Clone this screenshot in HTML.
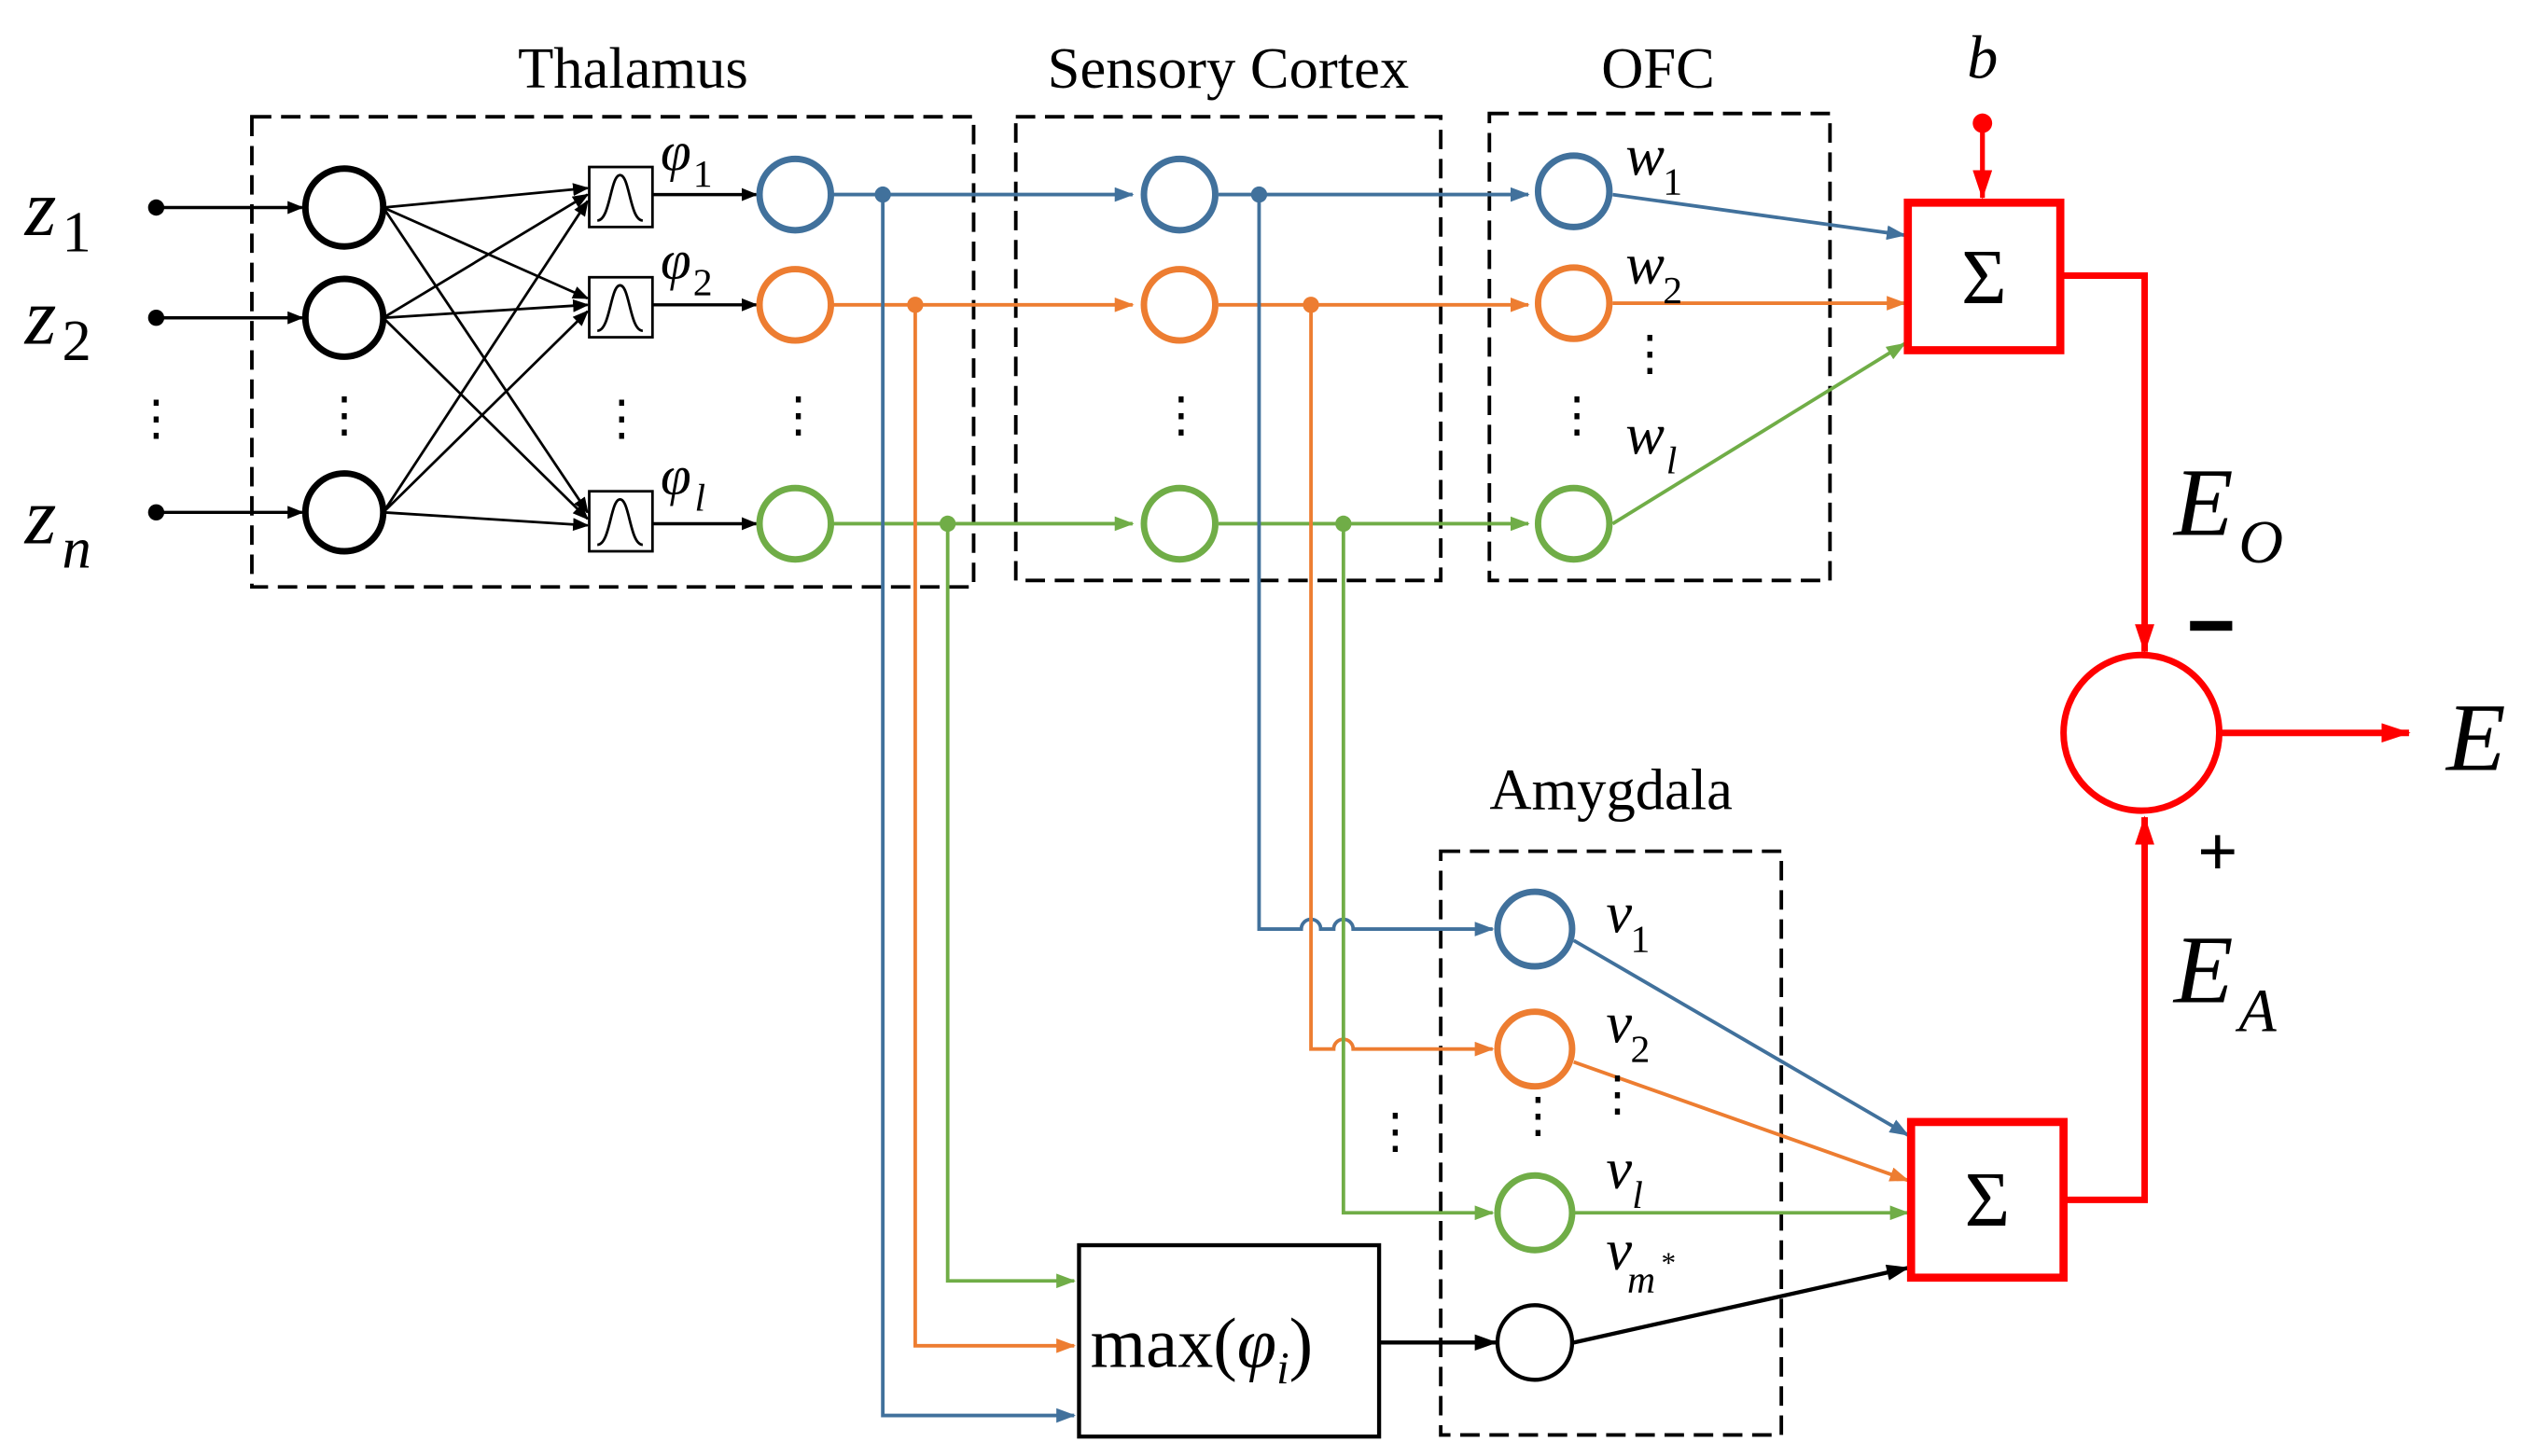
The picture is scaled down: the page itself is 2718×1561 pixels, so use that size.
<!DOCTYPE html>
<html><head><meta charset="utf-8"><style>
html,body{margin:0;padding:0;background:#fff;}
svg{display:block;}
text{font-family:"Liberation Serif",serif;}
</style></head><body>
<svg width="2718" height="1561" viewBox="0 0 1563 898" xmlns="http://www.w3.org/2000/svg">
<defs>
<marker id="ak" markerWidth="10" markerHeight="8" refX="9" refY="4" orient="auto" markerUnits="userSpaceOnUse"><path d="M0,0 L10,4 L0,8 z" fill="#000"/></marker>
<marker id="ab" markerWidth="12" markerHeight="9" refX="11" refY="4.5" orient="auto" markerUnits="userSpaceOnUse"><path d="M0,0 L12,4.5 L0,9 z" fill="#41719c"/></marker>
<marker id="ao" markerWidth="12" markerHeight="9" refX="11" refY="4.5" orient="auto" markerUnits="userSpaceOnUse"><path d="M0,0 L12,4.5 L0,9 z" fill="#ed7d31"/></marker>
<marker id="ag" markerWidth="12" markerHeight="9" refX="11" refY="4.5" orient="auto" markerUnits="userSpaceOnUse"><path d="M0,0 L12,4.5 L0,9 z" fill="#70ad47"/></marker>
<marker id="ar" markerWidth="18" markerHeight="12" refX="17" refY="6" orient="auto" markerUnits="userSpaceOnUse"><path d="M0,0 L18,6 L0,12 z" fill="#f00"/></marker>
<marker id="akb" markerWidth="14" markerHeight="10" refX="13" refY="5" orient="auto" markerUnits="userSpaceOnUse"><path d="M0,0 L14,5 L0,10 z" fill="#000"/></marker>
</defs>
<g fill="none" stroke="#000" stroke-width="2.2" stroke-dasharray="12,6">
<rect x="155" y="72" width="445" height="290"/>
<rect x="626" y="72" width="262" height="286"/>
<rect x="918" y="70" width="210" height="288"/>
<rect x="888" y="525" width="210" height="360"/>
</g>
<g font-size="36" text-anchor="middle">
<text x="390" y="54">Thalamus</text>
<text x="757" y="54">Sensory Cortex</text>
<text x="1022" y="54">OFC</text>
<text x="993" y="499">Amygdala</text>
</g>
<g font-size="50" font-style="italic">
<text x="15" y="145">z</text><text x="38" y="155" font-size="36" font-style="normal">1</text>
<text x="15" y="212">z</text><text x="38" y="222" font-size="36" font-style="normal">2</text>
<text x="15" y="335">z</text><text x="38" y="350" font-size="36">n</text>
</g>
<g fill="#000"><circle cx="96" cy="128" r="5"/><circle cx="96" cy="196" r="5"/><circle cx="96" cy="316" r="5"/></g>
<g stroke="#000" stroke-width="2" marker-end="url(#ak)">
<line x1="96" y1="128" x2="186" y2="128"/><line x1="96" y1="196" x2="186" y2="196"/><line x1="96" y1="316" x2="186" y2="316"/>
</g>
<g fill="none" stroke="#000" stroke-width="4"><circle cx="212" cy="128" r="24"/><circle cx="212" cy="196" r="24"/><circle cx="212" cy="316" r="24"/></g>
<g stroke="#000" stroke-width="1.6" marker-end="url(#ak)">
<line x1="236" y1="128" x2="362" y2="116"/><line x1="236" y1="128" x2="362" y2="184"/><line x1="236" y1="128" x2="362" y2="316"/>
<line x1="236" y1="196" x2="362" y2="120"/><line x1="236" y1="196" x2="362" y2="188"/><line x1="236" y1="196" x2="362" y2="320"/>
<line x1="236" y1="316" x2="362" y2="124"/><line x1="236" y1="316" x2="362" y2="192"/><line x1="236" y1="316" x2="362" y2="324"/>
</g>
<g fill="#fff" stroke="#000" stroke-width="1.6">
<rect x="363" y="103" width="39" height="37"/><rect x="363" y="171" width="39" height="37"/><rect x="363" y="303" width="39" height="37"/>
</g>
<g fill="none" stroke="#000" stroke-width="1.6">
<path d="M368,136 C376,136 376,108 382,108 C388,108 388,136 396,136"/>
<path d="M368,204 C376,204 376,176 382,176 C388,176 388,204 396,204"/>
<path d="M368,336 C376,336 376,308 382,308 C388,308 388,336 396,336"/>
</g>
<g stroke="#000" stroke-width="2" marker-end="url(#ak)">
<line x1="402" y1="120" x2="466" y2="120"/><line x1="402" y1="188" x2="466" y2="188"/><line x1="402" y1="323" x2="466" y2="323"/>
</g>
<g font-size="34" font-style="italic">
<text x="407" y="105">φ</text><text x="427" y="115" font-size="24" font-style="normal">1</text>
<text x="407" y="172">φ</text><text x="427" y="182" font-size="24" font-style="normal">2</text>
<text x="407" y="305">φ</text><text x="428" y="315" font-size="24">l</text>
</g>
<g fill="none" stroke-width="2.2">
<path d="M512,120 H698" stroke="#41719c" marker-end="url(#ab)"/>
<path d="M751,120 H942" stroke="#41719c" marker-end="url(#ab)"/>
<path d="M512,188 H698" stroke="#ed7d31" marker-end="url(#ao)"/>
<path d="M751,188 H942" stroke="#ed7d31" marker-end="url(#ao)"/>
<path d="M512,323 H698" stroke="#70ad47" marker-end="url(#ag)"/>
<path d="M751,323 H942" stroke="#70ad47" marker-end="url(#ag)"/>
<path d="M544,120 V873 H662" stroke="#41719c" marker-end="url(#ab)"/>
<path d="M564,188 V830 H662" stroke="#ed7d31" marker-end="url(#ao)"/>
<path d="M584,323 V790 H662" stroke="#70ad47" marker-end="url(#ag)"/>
<path d="M776,120 V573 H802 A6,6 0 0 1 814,573 H822 A6,6 0 0 1 834,573 H920" stroke="#41719c" marker-end="url(#ab)"/>
<path d="M808,188 V647 H822 A6,6 0 0 1 834,647 H920" stroke="#ed7d31" marker-end="url(#ao)"/>
<path d="M828,323 V748 H920" stroke="#70ad47" marker-end="url(#ag)"/>
<path d="M994,120 L1174,145" stroke="#41719c" marker-end="url(#ab)"/>
<path d="M994,187 L1174,187" stroke="#ed7d31" marker-end="url(#ao)"/>
<path d="M994,323 L1174,212" stroke="#70ad47" marker-end="url(#ag)"/>
<path d="M970,580 L1176,700" stroke="#41719c" marker-end="url(#ab)"/>
<path d="M970,655 L1176,728" stroke="#ed7d31" marker-end="url(#ao)"/>
<path d="M970,748 L1176,748" stroke="#70ad47" marker-end="url(#ag)"/>
</g>
<circle cx="544" cy="120" r="5" fill="#41719c"/><circle cx="776" cy="120" r="5" fill="#41719c"/>
<circle cx="564" cy="188" r="5" fill="#ed7d31"/><circle cx="808" cy="188" r="5" fill="#ed7d31"/>
<circle cx="584" cy="323" r="5" fill="#70ad47"/><circle cx="828" cy="323" r="5" fill="#70ad47"/>
<g fill="#fff" stroke-width="4">
<circle cx="490" cy="120" r="22" stroke="#41719c"/><circle cx="727" cy="120" r="22" stroke="#41719c"/><circle cx="970" cy="118" r="22" stroke="#41719c"/>
<circle cx="490" cy="188" r="22" stroke="#ed7d31"/><circle cx="727" cy="188" r="22" stroke="#ed7d31"/><circle cx="970" cy="187" r="22" stroke="#ed7d31"/>
<circle cx="490" cy="323" r="22" stroke="#70ad47"/><circle cx="727" cy="323" r="22" stroke="#70ad47"/><circle cx="970" cy="323" r="22" stroke="#70ad47"/>
<circle cx="946" cy="573" r="23" stroke="#41719c"/><circle cx="946" cy="647" r="23" stroke="#ed7d31"/><circle cx="946" cy="748" r="23" stroke="#70ad47"/>
</g>
<circle cx="946" cy="828" r="23" fill="#fff" stroke="#000" stroke-width="2.5"/>
<rect x="665" y="768" width="185" height="118" fill="#fff" stroke="#000" stroke-width="2.5"/>
<text x="672" y="843" font-size="44">max(<tspan font-style="italic">φ</tspan><tspan font-size="28" font-style="italic" dy="10">i</tspan><tspan dy="-10">)</tspan></text>
<line x1="850" y1="828" x2="922" y2="828" stroke="#000" stroke-width="2.5" marker-end="url(#akb)"/>
<line x1="970" y1="828" x2="1176" y2="782" stroke="#000" stroke-width="2.5" marker-end="url(#akb)"/>
<g font-size="30" text-anchor="middle">
<text x="96" y="268">⋮</text><text x="212" y="266">⋮</text><text x="383" y="268">⋮</text><text x="492" y="266">⋮</text>
<text x="728" y="266">⋮</text><text x="972" y="266">⋮</text><text x="1017" y="228">⋮</text><text x="860" y="708">⋮</text>
<text x="948" y="698">⋮</text><text x="997" y="685">⋮</text>
</g>
<g font-size="36" font-style="italic">
<text x="1002" y="108">w</text><text x="1025" y="120" font-size="24" font-style="normal">1</text>
<text x="1002" y="175">w</text><text x="1025" y="187" font-size="24" font-style="normal">2</text>
<text x="1002" y="280">w</text><text x="1027" y="292" font-size="24">l</text>
<text x="990" y="575">v</text><text x="1005" y="587" font-size="24" font-style="normal">1</text>
<text x="990" y="643">v</text><text x="1005" y="655" font-size="24" font-style="normal">2</text>
<text x="990" y="733">v</text><text x="1006" y="745" font-size="24">l</text>
<text x="990" y="783">v</text><text x="1003" y="797" font-size="24">m</text><text x="1024" y="785" font-size="18" font-style="normal">*</text>
</g>
<text x="1222" y="48" font-size="38" font-style="italic" text-anchor="middle">b</text>
<circle cx="1222" cy="76" r="6" fill="#f00"/>
<line x1="1222" y1="76" x2="1222" y2="122" stroke="#f00" stroke-width="3" marker-end="url(#ar)"/>
<g fill="#fff" stroke="#f00" stroke-width="5">
<rect x="1176" y="125" width="94" height="91"/>
<rect x="1178" y="692" width="94" height="96"/>
</g>
<g font-size="48" text-anchor="middle"><text x="1223" y="187">Σ</text><text x="1225" y="756">Σ</text></g>
<g fill="none" stroke="#f00" stroke-width="4">
<path d="M1270,170 H1322 V402" marker-end="url(#ar)"/>
<path d="M1272,740 H1322 V504" marker-end="url(#ar)"/>
<line x1="1368" y1="452" x2="1485" y2="452" marker-end="url(#ar)"/>
</g>
<circle cx="1320" cy="452" r="48" fill="#fff" stroke="#f00" stroke-width="4"/>
<g font-size="60" font-style="italic">
<text x="1508" y="475">E</text>
<text x="1340" y="330">E</text><text x="1380" y="347" font-size="38">O</text>
<text x="1340" y="618">E</text><text x="1380" y="636" font-size="38">A</text>
</g>
<rect x="1350" y="383" width="26" height="6" fill="#000"/>
<text x="1367" y="540" font-size="44" font-weight="bold" text-anchor="middle">+</text>
</svg>
</body></html>
